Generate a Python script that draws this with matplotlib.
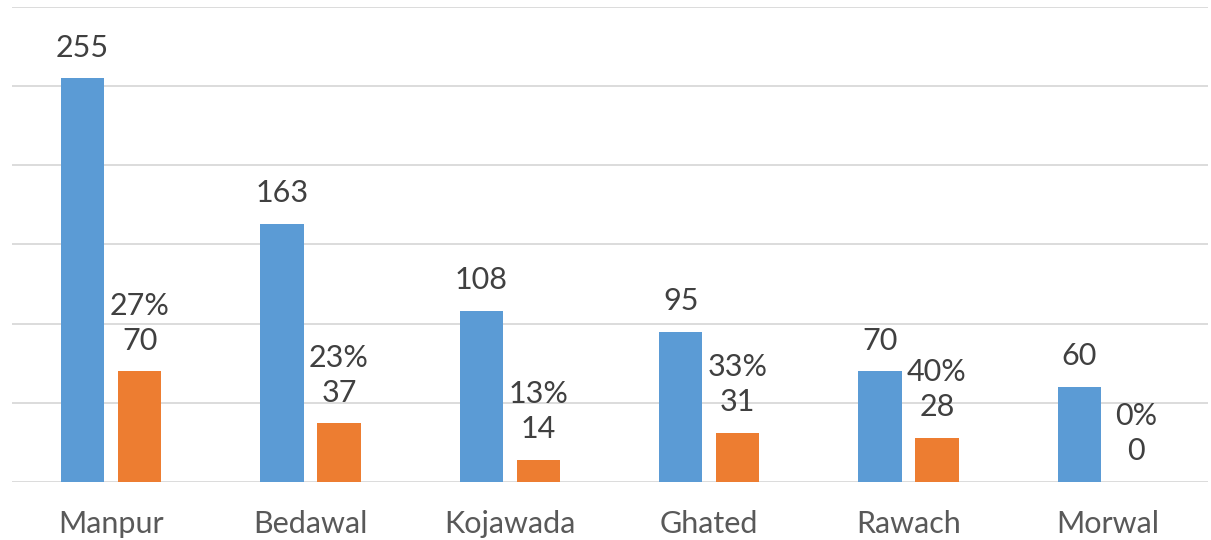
import numpy as np
import matplotlib.pyplot as plt

# data
villages = ['Manpur', 'Bedawal', 'Kojawada', 'Ghated', 'Rawach', 'Morwal']
total = [255, 163, 108, 95, 70, 60]
subset = [70, 37, 14, 31, 28, 0]
share = ['27%', '23%', '13%', '33%', '40%', '0%']

blue = '#5B9BD5'
orange = '#ED7D31'
txt = '#404040'

plt.rcParams['font.family'] = ['Lato', 'DejaVu Sans']

fig = plt.figure(figsize=(12.11, 5.4), dpi=100)
ax = fig.add_axes([11.5 / 1211, 58 / 540, 1196 / 1211, 475 / 540])

x = np.arange(len(villages))
w = 0.216
off = 0.143

ax.bar(x - off, total, width=w, color=blue, zorder=3)
ax.bar(x + off, subset, width=w, color=orange, zorder=3)

for i in range(len(villages)):
    ax.annotate(str(total[i]), (x[i] - off, total[i]), xytext=(0, 12),
                textcoords='offset points', ha='center', va='bottom',
                fontsize=22, color=txt)
    ax.annotate(share[i] + '\n' + str(subset[i]), (x[i] + off, subset[i]),
                xytext=(0, 12), textcoords='offset points', ha='center',
                va='bottom', fontsize=22, color=txt, linespacing=1.3)

ax.set_xlim(-0.5, len(villages) - 0.5)
ax.set_ylim(0, 300)
ax.set_yticks(np.arange(0, 301, 50))
ax.yaxis.grid(True, color='#D9D9D9', linewidth=1.3, zorder=0)
ax.tick_params(axis='y', left=False, labelleft=False)
ax.tick_params(axis='x', length=0, pad=20, labelsize=22, labelcolor='#595959')
ax.set_xticks(x)
ax.set_xticklabels(villages)
for s in ax.spines.values():
    s.set_visible(False)

fig.savefig('out.png', dpi=100)
